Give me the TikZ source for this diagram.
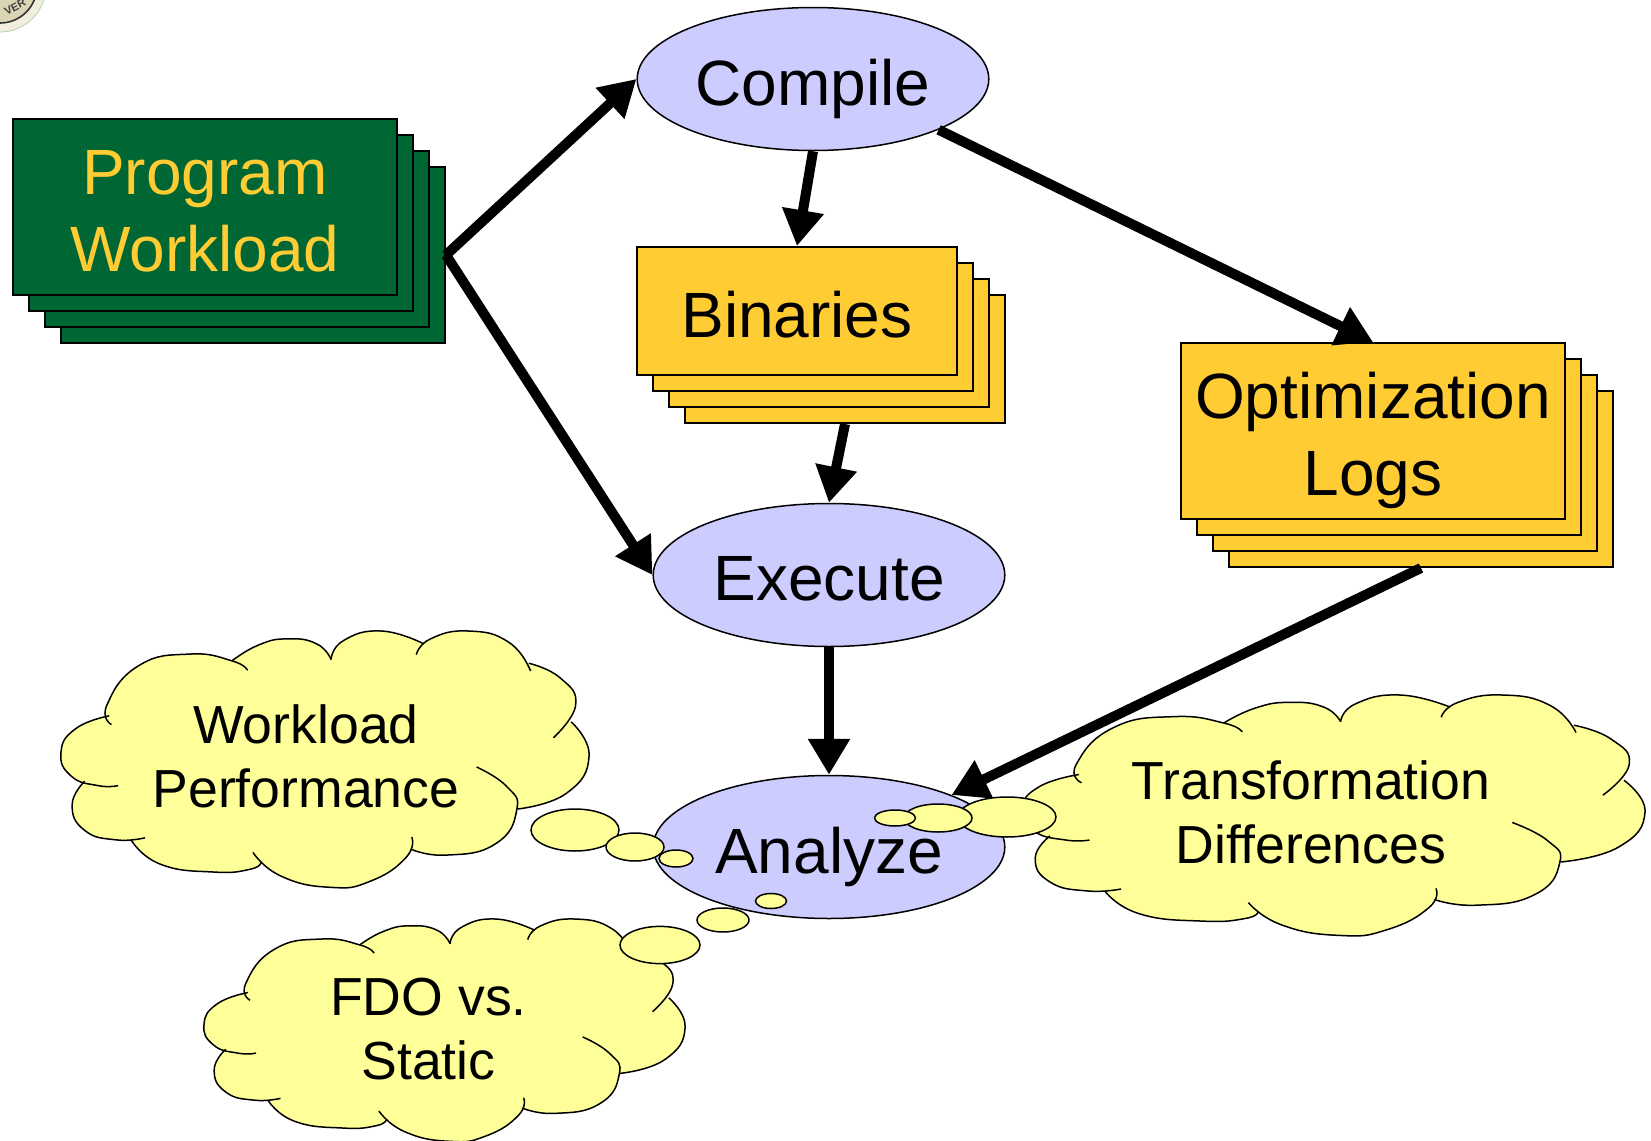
\documentclass[tikz,border=0pt]{standalone}
\usepackage{fontspec}
\setmainfont{Liberation Sans}
\usetikzlibrary{shapes}
\usetikzlibrary{arrows.meta}
\definecolor{cardgreen}{HTML}{006633}
\definecolor{cardgold}{HTML}{FFCC33}
\definecolor{stepblue}{HTML}{CCCCFF}
\definecolor{cloudyellow}{HTML}{FFFF99}
\definecolor{sealcream}{HTML}{F1EEDD}
\definecolor{sealband}{HTML}{DCD5B5}
\newcommand{\bigtext}{\fontsize{32}{38.5}\selectfont}
\newcommand{\cloudtext}{\fontsize{26.8}{32}\selectfont}
\newcommand{\cloudlobes}[1]{
	\path[#1] plot[smooth,tension=.85] coordinates {(160,338) (150,280) (220,165) (335,130) (430,150) (465,178)};
	\path[#1] plot[smooth,tension=.85] coordinates {(430,150) (490,103) (555,85) (620,100) (652,146)};
	\path[#1] plot[smooth,tension=.85] coordinates {(652,146) (680,90) (765,62) (860,100)};
	\path[#1] plot[smooth,tension=.85] coordinates {(843,132) (875,85) (960,62) (1050,95) (1099,180)};
	\path[#1] plot[smooth,tension=.85] coordinates {(1095,157) (1165,200) (1200,280) (1150,377)};
	\path[#1] plot[smooth,tension=.85] coordinates {(1190,330) (1230,430) (1180,540) (1070,587)};
	\path[#1] plot[smooth,tension=.85] coordinates {(978,463) (1045,520) (1068,590) (1020,690) (910,723) (830,705)};
	\path[#1] plot[smooth,tension=.85] coordinates {(833,670) (820,730) (740,800) (650,818) (540,785) (477,715)};
	\path[#1] plot[smooth,tension=.85] coordinates {(495,745) (470,765) (390,773) (270,750) (205,680)};
	\path[#1] plot[smooth,tension=.85] coordinates {(235,672) (170,678) (100,650) (72,575) (100,505)};
	\path[#1] plot[smooth,tension=.85] coordinates {(175,518) (130,518) (70,490) (47,420) (80,350) (155,312)};
}
\tikzset{
	greencard/.style={rectangle,draw,line width=1pt,fill=cardgreen,
		minimum width=192pt,minimum height=88pt,inner sep=0pt},
	goldcard/.style={rectangle,draw,line width=1pt,fill=cardgold,inner sep=0pt},
	stepnode/.style={ellipse,draw,line width=.75pt,fill=stepblue,
		minimum width=175.8pt,minimum height=71.5pt,inner sep=0pt},
	cardtext/.style={font=\bigtext,align=center,inner sep=0pt},
	bubble/.style={ellipse,draw,line width=.75pt,fill=cloudyellow,inner sep=0pt},
	cloudlabel/.style={font=\cloudtext,align=center,inner sep=0pt},
	flow/.style={->,>={Triangle[length=18pt,width=20pt]},line width=5pt},
	thoughtcloud/.pic={
		\fill[cloudyellow] (155,312) -- (430,150) -- (650,125) -- (860,100) -- (1095,157) -- (1190,330)
			-- (1070,587) -- (830,705) -- (495,745) -- (205,680) -- (100,505) -- cycle;
		\cloudlobes{fill=cloudyellow}
		\cloudlobes{draw,line width=.75pt}
	}
}

\begin{document}
\begin{tikzpicture}[x=.5pt,y=-.5pt]
	\clip (0,0) rectangle (1651,1141);
	% seal in the corner
	\node[circle,draw=green!40!black!30,fill=sealcream,minimum size=46pt,inner sep=0pt] (seal) at (0,-14) {};
	\node[circle,draw=black!80,line width=.8pt,fill=sealband,minimum size=37pt,inner sep=0pt] (sealring) at (0,-14) {};
	\node[rotate=28,font=\fontsize{5.5}{6}\selectfont\bfseries,text=black!75,inner sep=0pt] (sealname) at (15,7) {VER};

	% stacked cards
	\foreach \i in {3,2,1} {
		\node[greencard,xshift=\i*8pt,yshift=-\i*8pt] (program\i) at (205,207) {};
		\node[goldcard,minimum width=160pt,minimum height=64pt,xshift=\i*8pt,yshift=-\i*8pt] (binaries\i) at (797,311) {};
		\node[goldcard,minimum width=192pt,minimum height=88pt,xshift=\i*8pt,yshift=-\i*8pt] (logs\i) at (1373,431) {};
	}
	\node[greencard,label={[cardtext,text=cardgold,yshift=-2pt]center:{Program\\Workload}}] (program) at (205,207) {};
	\node[goldcard,minimum width=160pt,minimum height=64pt,label={[cardtext,yshift=-2pt]center:Binaries}] (binaries) at (797,311) {};
	\node[goldcard,minimum width=192pt,minimum height=88pt,label={[cardtext,yshift=-4.7pt]center:{Optimization\\Logs}}] (logs) at (1373,431) {};

	\node[stepnode,label={[cardtext,yshift=-5pt]center:Compile}] (compile) at (813,79) {};
	\node[stepnode,label={[cardtext,yshift=-2pt]center:Execute}] (execute) [below of=compile,node distance=248pt,xshift=8pt] {};
	\node[stepnode,label={[cardtext,yshift=-5pt]center:Analyze}] (analyze) [below of=execute,node distance=136pt] {};

	\path[flow]
		(program3.east) edge (compile.west)
		(program3.east) edge (execute.west)
		(compile.south) edge (binaries.north)
		(binaries3.south) edge (execute.north)
		(compile.-22) edge (logs.north)
		(logs3.south) edge (analyze.23)
		(execute.south) edge (analyze.north);

	% clouds and their bubbles
	\pic[shift={(40,610)},xscale=.4464,yscale=.339] {thoughtcloud};
	\pic[shift={(997.3,675.3)},xscale=.5266,yscale=.318] {thoughtcloud};
	\pic[shift={(184.9,900.8)},xscale=.4067,yscale=.294] {thoughtcloud};

	\node[bubble,minimum width=44pt,minimum height=21pt] (leftbig) at (575,830) {};
	\node[bubble,minimum width=29pt,minimum height=14pt] (leftmid) at (635,847) {};
	\node[bubble,minimum width=17pt,minimum height=8.5pt] (leftsmall) at (676,858.5) {};
	\node[bubble,minimum width=40pt,minimum height=18.6pt] (lowbig) at (660,945) {};
	\node[bubble,minimum width=26pt,minimum height=12pt] (lowmid) at (723,920) {};
	\node[bubble,minimum width=15.5pt,minimum height=7.5pt] (lowsmall) at (771,901) {};
	\node[bubble,minimum width=49pt,minimum height=20pt] (rightbig) at (1007,817) {};
	\node[bubble,minimum width=34pt,minimum height=14pt] (rightmid) at (938,818) {};
	\node[bubble,minimum width=20.5pt,minimum height=8pt] (rightsmall) at (895,818) {};

	\node[cloudlabel] (perf) at (306,756) {Workload\\Performance};
	\node[cloudlabel] (diffs) at (1311,812) {Transformation\\Differences};
	\node[cloudlabel] (fdo) at (428.5,1029) {FDO vs.\\Static};
\end{tikzpicture}
\end{document}
